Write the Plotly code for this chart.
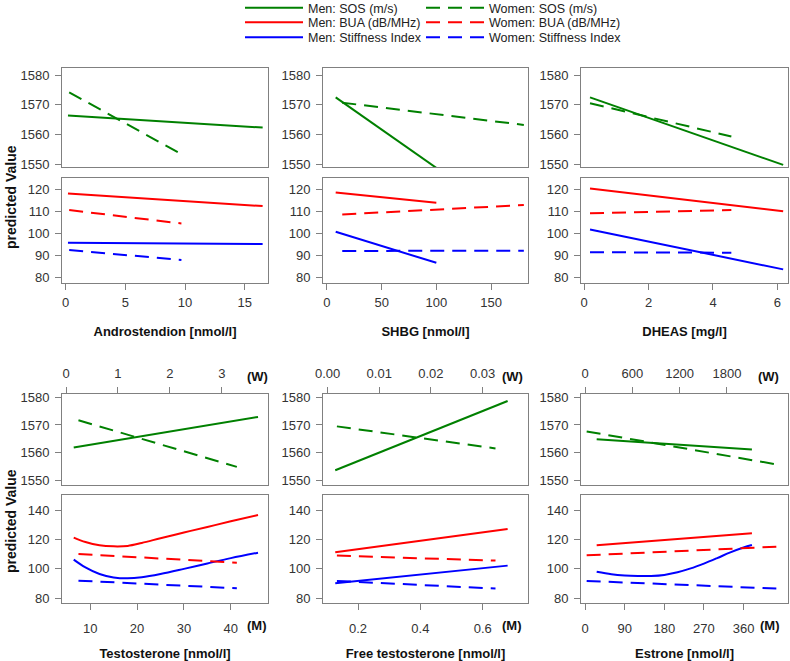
import plotly.graph_objects as go

GREEN, RED, BLUE = "#008000", "#ff0000", "#0000ff"
FONT = "Liberation Sans, Arial, sans-serif"

series_names = ["Men: SOS (m/s)", "Men: BUA (dB/MHz)", "Men: Stiffness Index",
                "Women: SOS (m/s)", "Women: BUA (dB/MHz)", "Women: Stiffness Index"]

# ---- Androstendion [nmol/l]
andro_men_x = [0.2, 16.5]
andro_women_x = [0.3, 9.7]
andro_men_sos = [1566.4, 1562.3]
andro_women_sos = [1574.2, 1553.3]
andro_men_bua = [118.2, 112.4]
andro_women_bua = [110.6, 104.5]
andro_men_si = [95.7, 95.1]
andro_women_si = [92.4, 87.9]

# ---- SHBG [nmol/l]
shbg_men_x = [8, 100]
shbg_women_x = [14, 180]
shbg_men_sos = [1572.5, 1548.7]
shbg_women_sos = [1570.7, 1563.2]
shbg_men_bua = [118.6, 113.9]
shbg_women_bua = [108.6, 112.9]
shbg_men_si = [100.7, 86.6]
shbg_women_si = [92.0, 92.1]

# ---- DHEAS [mg/l]
dheas_men_x = [0.18, 6.18]
dheas_women_x = [0.18, 4.57]
dheas_men_sos = [1572.5, 1549.7]
dheas_women_sos = [1570.5, 1559.3]
dheas_men_bua = [120.4, 110.1]
dheas_women_bua = [109.1, 110.6]
dheas_men_si = [101.8, 83.6]
dheas_women_si = [91.4, 91.2]

# ---- Testosterone [nmol/l]  (men on M axis, women on W axis)
testo_men_sos_x = [6.5, 45.8]
testo_men_sos = [1561.9, 1572.9]
testo_men_curve_x = [6.5, 9, 12, 15, 18, 21, 25, 30, 35, 40, 45.8]
testo_men_bua = [121.2, 118.2, 116.0, 115.3, 115.6, 117.6, 120.8, 124.7, 128.5, 132.3, 136.6]
testo_men_si = [106.3, 101.0, 96.5, 94.2, 93.6, 94.3, 96.5, 100.0, 103.7, 107.3, 111.0]
testo_women_x = [0.24, 3.29]
testo_women_sos = [1571.7, 1555.0]
testo_women_bua = [110.1, 104.2]
testo_women_si = [92.0, 86.8]

# ---- Free testosterone [nmol/l]
ft_men_x = [0.127, 0.68]
ft_women_x = [0.0018, 0.0325]
ft_men_sos = [1553.8, 1578.6]
ft_women_sos = [1569.5, 1561.6]
ft_men_bua = [111.3, 127.1]
ft_women_bua = [109.0, 105.6]
ft_men_si = [90.2, 102.2]
ft_women_si = [91.8, 86.6]

# ---- Estrone [nmol/l]
estr_men_x = [26.5, 379]
estr_men_sos = [1564.9, 1561.2]
estr_men_bua = [116.0, 124.2]
estr_men_curve_x = [26.5, 60, 90, 120, 150, 180, 210, 240, 270, 300, 330, 360, 379]
estr_men_si = [98.0, 96.3, 95.5, 95.2, 95.2, 95.9, 97.7, 100.3, 103.6, 107.3, 111.2, 114.5, 116.2]
estr_women_x = [21, 2427]
estr_women_sos = [1567.7, 1555.9]
estr_women_bua = [109.2, 115.1]
estr_women_si = [91.8, 86.6]

# tick values
andro_ticks = [0, 5, 10, 15]
shbg_ticks = [0, 50, 100, 150]
dheas_ticks = [0, 2, 4, 6]
testo_m_ticks = [10, 20, 30, 40]
testo_w_ticks = [0, 1, 2, 3]
ft_m_ticks = [0.2, 0.4, 0.6]
ft_w_ticks = [0.0, 0.01, 0.02, 0.03]
ft_w_labels = ["0.00", "0.01", "0.02", "0.03"]
estr_m_ticks = [0, 90, 180, 270, 360]
estr_w_ticks = [0, 600, 1200, 1800]
sos_ticks = [1550, 1560, 1570, 1580]
top_low_ticks = [80, 90, 100, 110, 120]
bot_low_ticks = [80, 100, 120, 140]

W, H = 790, 661
def dx(a, b):
    return [a / W, b / W]
def dy(top, bottom):
    return [1 - bottom / H, 1 - top / H]

col_px = [(62, 268), (323, 528), (581, 788)]
top_up, top_lo = (68, 167), (178, 283)
bot_up, bot_lo = (394, 485), (495, 603)

base = dict(showline=True, linecolor="#808080", linewidth=1, mirror=True,
            showgrid=False, zeroline=False, ticks="outside", ticklen=6,
            tickcolor="#808080", automargin=False,
            tickfont=dict(family=FONT, size=13, color="#333"))

layout = {}
counter = [0]

def axes(xdom, ydom, xr, yr, xkw, ykw):
    counter[0] += 1
    s = "" if counter[0] == 1 else str(counter[0])
    xa = dict(base); xa.update(dict(domain=xdom, range=xr, anchor="y" + s)); xa.update(xkw)
    ya = dict(base); ya.update(dict(domain=ydom, range=yr, anchor="x" + s)); ya.update(ykw)
    layout["xaxis" + s] = xa
    layout["yaxis" + s] = ya
    return "x" + s, "y" + s

def overlay(mainx, mainy, xr):
    counter[0] += 1
    s = str(counter[0])
    layout["xaxis" + s] = dict(overlaying=mainx, anchor=mainy, range=xr, visible=False)
    return "x" + s

def xtitle(t, standoff):
    return dict(text=t, font=dict(family=FONT, size=13, color="#111", weight="bold"), standoff=standoff)

traces = []
legend_done = set()

def line(x, y, xa, ya, idx, shape="linear"):
    color = [GREEN, RED, BLUE][idx % 3]
    dash = "solid" if idx < 3 else "14px,8px"
    show = idx not in legend_done
    legend_done.add(idx)
    traces.append(go.Scatter(
        x=x, y=y, xaxis=xa, yaxis=ya, mode="lines", name=series_names[idx],
        line=dict(color=color, width=2, dash=dash, shape=shape, smoothing=1.0),
        showlegend=show, legend="legend" if idx == 0 else "legend%d" % (idx + 1),
        hoverinfo="skip"))

# ---------------- top row ----------------
top_panels = [
    dict(title="Androstendion [nmol/l]", xr=[-0.3, 16.95], ticks=andro_ticks,
         mx=andro_men_x, wx=andro_women_x, msos=andro_men_sos, wsos=andro_women_sos,
         mbua=andro_men_bua, wbua=andro_women_bua, msi=andro_men_si, wsi=andro_women_si),
    dict(title="SHBG [nmol/l]", xr=[-3.6, 183.8], ticks=shbg_ticks,
         mx=shbg_men_x, wx=shbg_women_x, msos=shbg_men_sos, wsos=shbg_women_sos,
         mbua=shbg_men_bua, wbua=shbg_women_bua, msi=shbg_men_si, wsi=shbg_women_si),
    dict(title="DHEAS [mg/l]", xr=[-0.1, 6.33], ticks=dheas_ticks,
         mx=dheas_men_x, wx=dheas_women_x, msos=dheas_men_sos, wsos=dheas_women_sos,
         mbua=dheas_men_bua, wbua=dheas_women_bua, msi=dheas_men_si, wsi=dheas_women_si),
]

for c, p in enumerate(top_panels):
    xd = dx(*col_px[c])
    xu, yu = axes(xd, dy(*top_up), p["xr"], [1549, 1582.4],
                  dict(showticklabels=False, ticks=""),
                  dict(tickvals=sos_ticks, ticklabelstandoff=3))
    xl, yl = axes(xd, dy(*top_lo), p["xr"], [77.4, 125.2],
                  dict(tickvals=p["ticks"], ticklabelstandoff=1, title=xtitle(p["title"], 18)),
                  dict(tickvals=top_low_ticks, ticklabelstandoff=3))
    line(p["mx"], p["msos"], xu, yu, 0)
    line(p["wx"], p["wsos"], xu, yu, 3)
    line(p["mx"], p["mbua"], xl, yl, 1)
    line(p["wx"], p["wbua"], xl, yl, 4)
    line(p["mx"], p["msi"], xl, yl, 2)
    line(p["wx"], p["wsi"], xl, yl, 5)

# ---------------- bottom row ----------------
bot_panels = [
    dict(title="Testosterone [nmol/l]", mr=[4.0, 47.93], wr=[-0.077, 3.89],
         mt=testo_m_ticks, wt=testo_w_ticks, wl=None,
         msos_x=testo_men_sos_x, msos=testo_men_sos,
         mbua_x=testo_men_curve_x, mbua=testo_men_bua,
         msi_x=testo_men_curve_x, msi=testo_men_si,
         wx=testo_women_x, wsos=testo_women_sos, wbua=testo_women_bua, wsi=testo_women_si),
    dict(title="Free testosterone [nmol/l]", mr=[0.0877, 0.7454], wr=[-0.00089, 0.03879],
         mt=ft_m_ticks, wt=ft_w_ticks, wl=ft_w_labels,
         msos_x=ft_men_x, msos=ft_men_sos, mbua_x=ft_men_x, mbua=ft_men_bua,
         msi_x=ft_men_x, msi=ft_men_si,
         wx=ft_women_x, wsos=ft_women_sos, wbua=ft_women_bua, wsi=ft_women_si),
    dict(title="Estrone [nmol/l]", mr=[-9.1, 460.9], wr=[-50.8, 2575],
         mt=estr_m_ticks, wt=estr_w_ticks, wl=None,
         msos_x=estr_men_x, msos=estr_men_sos, mbua_x=estr_men_x, mbua=estr_men_bua,
         msi_x=estr_men_curve_x, msi=estr_men_si,
         wx=estr_women_x, wsos=estr_women_sos, wbua=estr_women_bua, wsi=estr_women_si),
]

for c, p in enumerate(bot_panels):
    xd = dx(*col_px[c])
    wkw = dict(side="top", tickvals=p["wt"], ticklabelstandoff=4)
    if p["wl"]:
        wkw["ticktext"] = p["wl"]
    xu, yu = axes(xd, dy(*bot_up), p["wr"], [1548.5, 1581.1], wkw,
                  dict(tickvals=sos_ticks, ticklabelstandoff=3))
    xum = overlay(xu, yu, p["mr"])
    xl, yl = axes(xd, dy(*bot_lo), p["mr"], [76.8, 150.2],
                  dict(tickvals=p["mt"], ticklabelstandoff=7, title=xtitle(p["title"], 14)),
                  dict(tickvals=bot_low_ticks, ticklabelstandoff=3))
    xlw = overlay(xl, yl, p["wr"])
    line(p["msos_x"], p["msos"], xum, yu, 0)
    line(p["wx"], p["wsos"], xu, yu, 3)
    line(p["mbua_x"], p["mbua"], xl, yl, 1, "spline")
    line(p["wx"], p["wbua"], xlw, yl, 4)
    line(p["msi_x"], p["msi"], xl, yl, 2, "spline")
    line(p["wx"], p["wsi"], xlw, yl, 5)

annotations = []
for ycen in (197, 521):
    annotations.append(dict(text="predicted Value", x=11 / W, y=1 - ycen / H, xref="paper", yref="paper",
                            xanchor="center", yanchor="middle", textangle=-90, showarrow=False,
                            font=dict(family=FONT, size=14, color="#111", weight="bold")))
for xw, xm in [(257, 257), (512, 512), (768, 770)]:
    annotations.append(dict(text="(W)", x=xw / W, y=1 - 376 / H, xref="paper", yref="paper", showarrow=False,
                            xanchor="center", yanchor="middle",
                            font=dict(family=FONT, size=13, color="#111", weight="bold")))
    annotations.append(dict(text="(M)", x=xm / W, y=1 - 625 / H, xref="paper", yref="paper", showarrow=False,
                            xanchor="center", yanchor="middle",
                            font=dict(family=FONT, size=13, color="#111", weight="bold")))

row_y = [8.0, 22.5, 37.5]
leg_x = [240, 421]
for k in range(6):
    key = "legend" if k == 0 else "legend%d" % (k + 1)
    layout[key] = dict(x=leg_x[k // 3] / W, y=1 - row_y[k % 3] / H, xanchor="left", yanchor="middle",
                       bgcolor="rgba(0,0,0,0)", borderwidth=0, itemwidth=58,
                       font=dict(family=FONT, size=12.5, color="#222"))

fig = go.Figure(data=traces)
fig.update_layout(width=W, height=H, margin=dict(l=0, r=0, t=0, b=0, autoexpand=False),
                  paper_bgcolor="white", plot_bgcolor="white",
                  font=dict(family=FONT, size=13, color="#333"),
                  annotations=annotations, **layout)
fig.write_html("out.html", config={"displayModeBar": False},
               post_script="document.body.style.margin='0px';")
